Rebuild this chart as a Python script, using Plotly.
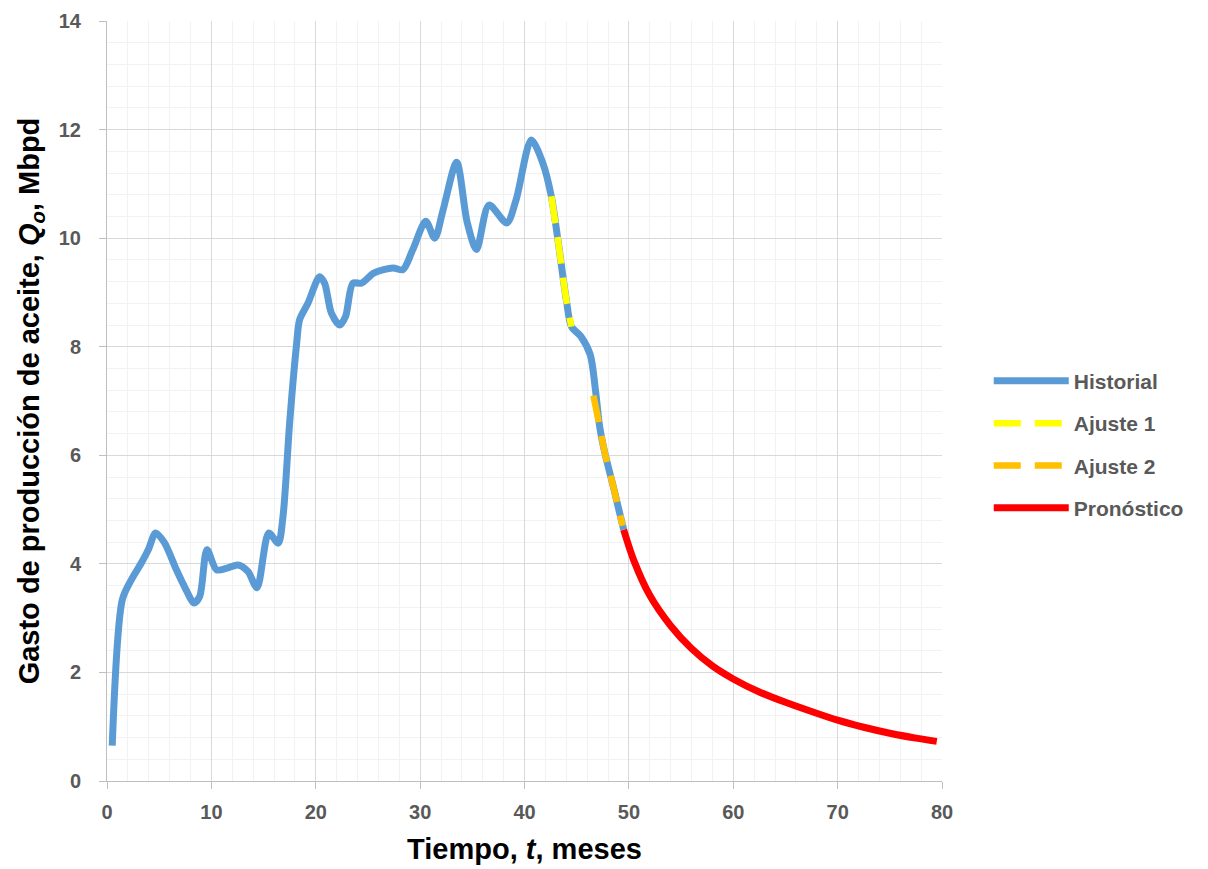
import plotly.graph_objects as go

# Historial (meses, Mbpd)
hist_t = [0.5, 1.47, 2.34, 3.3, 4.0, 4.66, 5.5, 6.65, 7.5, 8.33, 8.88, 9.58, 10.5,
          11.5, 12.55, 13.5, 14.37, 15.5, 16.4, 16.86, 17.5, 18.14, 18.46, 19.25,
          20.37, 20.85, 21.5, 22.3, 22.86, 23.56, 24.37, 25.6, 27.4, 28.35, 29.3,
          30.54, 31.4, 32.2, 33.5, 34.5, 35.4, 36.6, 38.3, 39.2, 40.65, 41.76,
          42.57, 43.2, 44.0, 44.5, 45.4, 46.3, 46.8, 47.2, 47.7, 48.5, 49.5]
hist_q = [0.65, 3.34, 3.71, 4.02, 4.28, 4.57, 4.39, 3.89, 3.55, 3.28, 3.40, 4.26, 3.89,
          3.92, 3.98, 3.86, 3.56, 4.57, 4.38, 4.87, 6.6, 8.0, 8.5, 8.8,
          9.29, 9.17, 8.62, 8.4, 8.56, 9.17, 9.17, 9.36, 9.45, 9.42, 9.79,
          10.31, 10.0, 10.52, 11.4, 10.3, 9.79, 10.61, 10.28, 10.71, 11.81, 11.38,
          10.77, 9.97, 8.87, 8.37, 8.19, 7.85, 7.2, 6.53, 6.04, 5.43, 4.63]

aj1_t = [42.57, 43.2, 44.0, 44.5]
aj1_q = [10.77, 9.97, 8.87, 8.37]

aj2_t = [46.6, 47.2, 47.7, 48.5, 49.4]
aj2_q = [7.1, 6.53, 6.04, 5.43, 4.7]

pron_t = [49.5, 50.5, 52.0, 54.0, 56.0, 58.0, 60.0, 62.5, 65.0, 67.5, 70.0, 72.5, 75.0, 77.5, 79.5]
pron_q = [4.63, 4.05, 3.42, 2.86, 2.44, 2.12, 1.88, 1.64, 1.45, 1.28, 1.12, 0.99, 0.88, 0.79, 0.73]

FONT = "Liberation Sans, Arial, sans-serif"
GRAY = "#595959"

fig = go.Figure()

fig.add_trace(go.Scatter(x=hist_t, y=hist_q, mode="lines", name="Historial",
                         legendgroup="a",
                         line=dict(color="#5B9BD5", width=7, shape="spline", smoothing=0.8)))
fig.add_trace(go.Scatter(x=aj1_t, y=aj1_q, mode="lines", name="Ajuste 1",
                         legendgroup="b",
                         line=dict(color="#FFFF00", width=6.5, shape="spline", dash="27px,14px")))
fig.add_trace(go.Scatter(x=aj2_t, y=aj2_q, mode="lines", name="Ajuste 2",
                         legendgroup="c",
                         line=dict(color="#FFC000", width=6.5, shape="spline", dash="27px,14px")))
fig.add_trace(go.Scatter(x=pron_t, y=pron_q, mode="lines", name="Pronóstico",
                         legendgroup="d",
                         line=dict(color="#FF0000", width=7, shape="spline", smoothing=0.8)))

axis_common = dict(
    showline=True, linecolor="#BFBFBF", linewidth=1, mirror=False,
    ticks="outside", ticklen=7, tickcolor="#BFBFBF",
    gridcolor="#D9D9D9", gridwidth=1, zeroline=False, automargin=False,
    tickfont=dict(family=FONT, size=20, color=GRAY, weight="bold"),
)

fig.update_xaxes(
    range=[0, 80], dtick=10, tick0=0,
    minor=dict(dtick=2, showgrid=True, gridcolor="#F2F2F2", gridwidth=1),
    ticklabelstandoff=6,
    title=dict(text="Tiempo, <i>t</i>, meses", standoff=16,
               font=dict(family=FONT, size=29, color="black", weight="bold")),
    **axis_common,
)
fig.update_yaxes(
    range=[0, 14], dtick=2, tick0=0,
    minor=dict(dtick=0.4, showgrid=True, gridcolor="#F2F2F2", gridwidth=1),
    ticklabelstandoff=14,
    title=dict(text="Gasto de producción de aceite, <i>Q<sub>o</sub></i>, Mbpd", standoff=10,
               font=dict(family=FONT, size=29, color="black", weight="bold")),
    **axis_common,
)

# the page adds an 8px body margin, so margins are shifted by 8px
fig.update_layout(
    width=1208, height=869,
    margin=dict(l=99, r=274, t=13, b=96),
    plot_bgcolor="white", paper_bgcolor="white",
    legend=dict(x=1.056, y=0.553, xanchor="left", yanchor="top",
                traceorder="grouped", tracegroupgap=12, itemwidth=75,
                font=dict(family=FONT, size=21, color=GRAY, weight="bold")),
    showlegend=True,
)

fig.write_html("out.html")
